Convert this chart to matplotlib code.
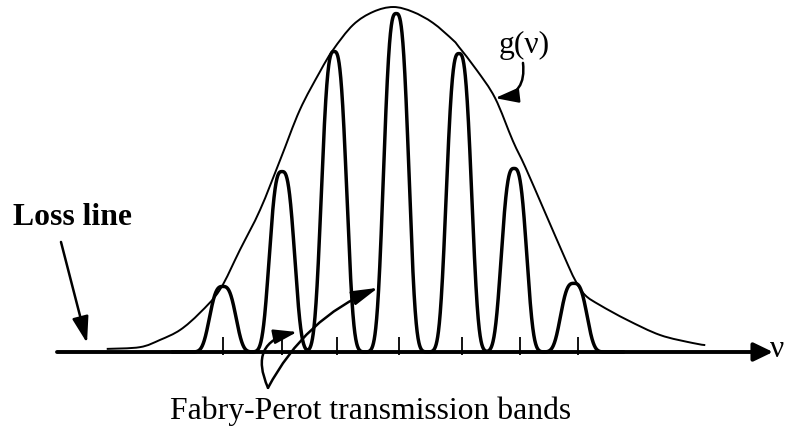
import numpy as np
import matplotlib
matplotlib.use("Agg")
import matplotlib.pyplot as plt
from matplotlib.path import Path
from matplotlib.patches import PathPatch

# Fabry-Perot modes (x in mode spacings, height relative to gain peak)
peak_centre = [-2.96, -1.96, -1.08, -0.03, 1.03, 1.96, 2.97]
peak_height = [0.190, 0.523, 0.871, 0.981, 0.865, 0.532, 0.199]
peak_width = [0.26, 0.25, 0.25, 0.25, 0.25, 0.25, 0.26]
PEAK_SHAPE = 3.0

# tick marks on the frequency axis
tick_pos = [-2.96, -1.96, -1.03, 0.02, 1.08, 2.06, 3.04]

# gain curve g(nu)
gain_x = [-4.92, -4.36, -4.02, -3.68, -3.35, -3.01, -2.67, -2.33, -1.99,
          -1.66, -1.32, -1.10, -0.76, -0.42, -0.08, 0.25, 0.59, 0.93,
          1.03, 1.33, 1.64, 1.94, 2.15, 2.48, 2.82, 2.99, 3.16, 3.41,
          3.87, 4.43, 4.98, 5.19]
gain_y = [0.009, 0.014, 0.035, 0.064, 0.113, 0.180, 0.296, 0.412, 0.557,
          0.701, 0.812, 0.875, 0.948, 0.986, 1.000, 0.986, 0.954, 0.904,
          0.884, 0.817, 0.736, 0.612, 0.536, 0.406, 0.272, 0.209, 0.165,
          0.136, 0.093, 0.049, 0.026, 0.020]


def smooth_path(xs, ys):
    # Catmull-Rom through the read points, drawn as cubic Bezier segments
    pts = np.column_stack([xs, ys])
    verts = [pts[0]]
    codes = [Path.MOVETO]
    n = len(pts)
    for i in range(n - 1):
        p0 = pts[max(i - 1, 0)]
        p1, p2 = pts[i], pts[i + 1]
        p3 = pts[min(i + 2, n - 1)]
        verts += [p1 + (p2 - p0) / 6, p2 - (p3 - p1) / 6, p2]
        codes += [Path.CURVE4] * 3
    return Path(verts, codes)


plt.rcParams['font.family'] = ['Liberation Serif', 'DejaVu Serif']

fig = plt.figure(figsize=(7.85, 4.26), dpi=100)
ax = fig.add_axes([0, 0, 1, 1])
ax.set_xlim(-6.723, 6.537)
ax.set_ylim(-0.2145, 1.0203)
ax.axis('off')

# gain envelope
ax.add_patch(PathPatch(smooth_path(gain_x, gain_y), facecolor='none',
                       edgecolor='black', lw=1.4))

# transmission bands
nu = np.linspace(-3.8, 3.8, 3000)
trans = np.zeros_like(nu)
for c, h, w in zip(peak_centre, peak_height, peak_width):
    trans += h * np.exp(-np.abs((nu - c) / w) ** PEAK_SHAPE)
ax.plot(nu, trans, color='black', lw=2.5)

# frequency axis with arrow
ax.annotate('', xy=(6.334, 0), xytext=(-5.76, 0),
            arrowprops=dict(arrowstyle='-|>,head_length=0.58,head_width=0.28',
                            mutation_scale=20, color='black', lw=2.8,
                            shrinkA=0, shrinkB=0))
ax.vlines(tick_pos, -0.009, 0.043, color='black', lw=1.3)
ax.text(6.29, -0.0145, 'ν', fontsize=22.8, ha='left', va='baseline')

# labels
ax.text(-6.503, 0.368, 'Loss line', fontsize=22.8, fontweight='bold',
        ha='left', va='baseline')
ax.annotate('', xy=(-5.253, 0.026), xytext=(-5.693, 0.319),
            arrowprops=dict(arrowstyle='-|>,head_length=0.8,head_width=0.25',
                            mutation_scale=20, color='black', lw=1.8,
                            shrinkA=0, shrinkB=0))

ax.text(1.706, 0.867, 'g(ν)', fontsize=22.8, ha='left', va='baseline')
ax.annotate('', xy=(1.639, 0.736), xytext=(2.111, 0.838),
            arrowprops=dict(arrowstyle='-|>,head_length=0.7,head_width=0.22',
                            connectionstyle='arc3,rad=-0.5',
                            mutation_scale=20, color='black', lw=1.8,
                            shrinkA=0, shrinkB=0))

ax.text(-0.456, -0.194, 'Fabry-Perot transmission bands', fontsize=22.8,
        ha='center', va='baseline')
ax.annotate('', xy=(-1.706, 0.058), xytext=(-2.196, -0.104),
            arrowprops=dict(arrowstyle='-|>,head_length=0.7,head_width=0.22',
                            connectionstyle='arc3,rad=-0.62',
                            mutation_scale=20, color='black', lw=1.8,
                            shrinkA=0, shrinkB=0))
ax.annotate('', xy=(-0.338, 0.186), xytext=(-2.196, -0.104),
            arrowprops=dict(arrowstyle='-|>,head_length=0.8,head_width=0.22',
                            connectionstyle='arc3,rad=-0.18',
                            mutation_scale=20, color='black', lw=1.8,
                            shrinkA=0, shrinkB=0))

fig.savefig('out.png', dpi=100, facecolor='white')
